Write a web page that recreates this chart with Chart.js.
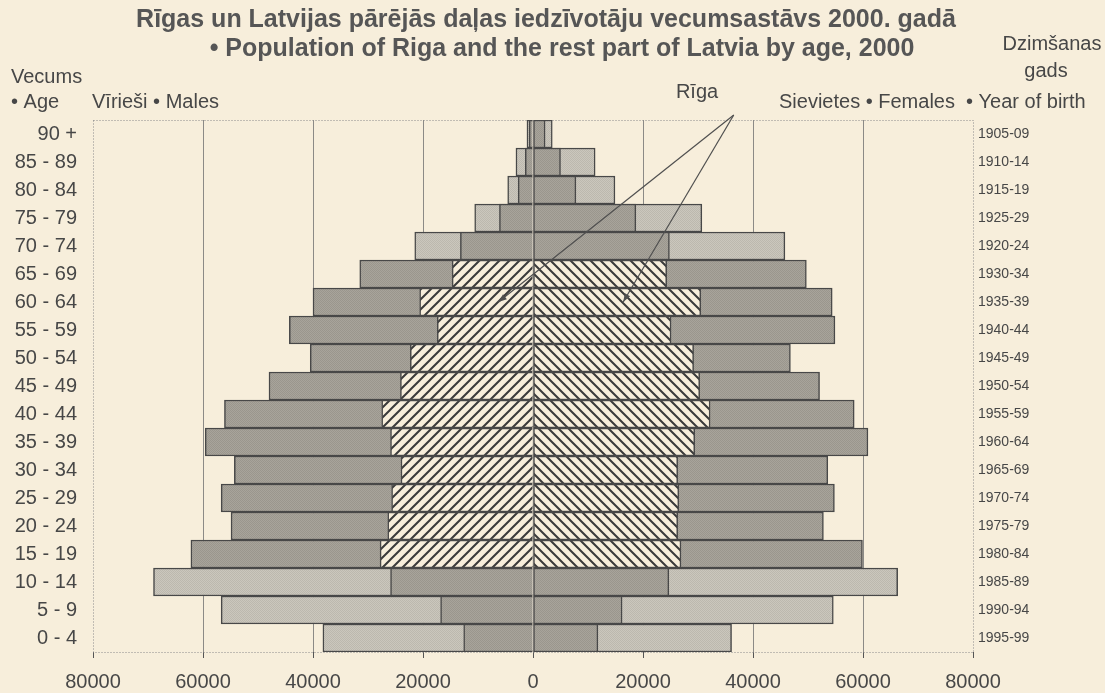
<!DOCTYPE html>
<html>
<head>
<meta charset="utf-8">
<script src="https://cdn.jsdelivr.net/npm/chart.js@4/dist/chart.umd.min.js"></script>
<style>
  html, body { margin: 0; padding: 0; background: #f7eedb; }
  #wrap { width: 1105px; height: 693px; }
</style>
</head>
<body>
<div id="wrap"><canvas id="pyramid"></canvas></div>
<script>
const ageGroups = ["90 +", "85 - 89", "80 - 84", "75 - 79", "70 - 74", "65 - 69", "60 - 64",
  "55 - 59", "50 - 54", "45 - 49", "40 - 44", "35 - 39", "30 - 34", "25 - 29", "20 - 24",
  "15 - 19", "10 - 14", "5 - 9", "0 - 4"];
const birthYears = ["1905-09", "1910-14", "1915-19", "1925-29", "1920-24", "1930-34", "1935-39",
  "1940-44", "1945-49", "1950-54", "1955-59", "1960-64", "1965-69", "1970-74", "1975-79",
  "1980-84", "1985-89", "1990-94", "1995-99"];

// Riga part (inner bar) and whole Latvia (outer edge), persons
const malesRiga = [700, 1400, 2700, 6100, 13200, 14700, 20600, 17400, 22300, 24100, 27500,
  25900, 24000, 25700, 26400, 27800, 25900, 16800, 12600];
const malesTotal = [1100, 3100, 4600, 10600, 21500, 31500, 40000, 44300, 40500, 48000, 56100,
  59600, 54300, 56700, 54900, 62200, 69000, 56700, 38200];
const femalesRiga = [2200, 5000, 7800, 18700, 24800, 24300, 30500, 25100, 29200, 30300, 32200,
  29400, 26300, 26500, 26300, 26900, 24700, 16200, 11800];
const femalesTotal = [3500, 11300, 14900, 30700, 45800, 49700, 54400, 54900, 46800, 52100, 58400,
  60900, 53600, 54800, 52800, 59900, 66300, 54600, 36100];

// rows 65-69 .. 15-19 have the hatched Riga part
const hatchedRows = ["65 - 69", "60 - 64", "55 - 59", "50 - 54", "45 - 49", "40 - 44", "35 - 39",
  "30 - 34", "25 - 29", "20 - 24", "15 - 19"];

const FONT = "'Liberation Sans', Arial, sans-serif";
const BG = "#f7eedb";
const INK = "#474747";

function dots(c1, c2) {
  const cv = document.createElement("canvas");
  cv.width = cv.height = 2;
  const g = cv.getContext("2d");
  g.fillStyle = c1; g.fillRect(0, 0, 2, 2);
  g.fillStyle = c2; g.fillRect(0, 0, 1, 1); g.fillRect(1, 1, 1, 1);
  return g.createPattern(cv, "repeat");
}

function hatch(dir) {
  const s = 10;
  const cv = document.createElement("canvas");
  cv.width = cv.height = s;
  const g = cv.getContext("2d");
  g.fillStyle = BG; g.fillRect(0, 0, s, s);
  g.strokeStyle = "#3a3a3a"; g.lineWidth = 2;
  g.beginPath();
  if (dir > 0) {
    g.moveTo(0, s); g.lineTo(s, 0);
    g.moveTo(-s / 2, s / 2); g.lineTo(s / 2, -s / 2);
    g.moveTo(s / 2, s * 1.5); g.lineTo(s * 1.5, s / 2);
  } else {
    g.moveTo(0, 0); g.lineTo(s, s);
    g.moveTo(-s / 2, s / 2); g.lineTo(s / 2, s * 1.5);
    g.moveTo(s / 2, -s / 2); g.lineTo(s * 1.5, s / 2);
  }
  g.stroke();
  return g.createPattern(cv, "repeat");
}

const darkGrey = dots("#a8a49b", "#9a968d");
const lightGrey = dots("#cbc7bd", "#bcb8ae");
const hatchLeft = hatch(1);
const hatchRight = hatch(-1);

const isHatched = (i) => hatchedRows.includes(ageGroups[i]);

// header texts, plot frame and the "Rīga" pointers
const decor = {
  id: "decor",
  beforeDatasetsDraw(chart) {
    const { ctx, chartArea: a } = chart;
    ctx.save();
    ctx.strokeStyle = "#8a8a8a";
    ctx.lineWidth = 1;
    ctx.setLineDash([1, 2]);
    ctx.strokeRect(a.left + 0.5, a.top + 0.5, a.right - a.left, a.bottom - a.top);
    ctx.restore();
  },
  afterDraw(chart) {
    const { ctx, chartArea: a, scales } = chart;
    ctx.save();
    ctx.fillStyle = "#565656";
    ctx.textBaseline = "middle";
    ctx.textAlign = "center";
    ctx.font = "bold 25px " + FONT;
    ctx.fillText("Rīgas un Latvijas pārējās daļas iedzīvotāju vecumsastāvs 2000. gadā", 546, 20);
    ctx.fillText("• Population of Riga and the rest part of Latvia by age, 2000", 562, 49);

    ctx.fillStyle = INK;
    ctx.font = "20px " + FONT;
    ctx.fillText("Dzimšanas", 1052, 44);
    ctx.fillText("gads", 1046, 71);
    ctx.fillText("Rīga", 697, 92);
    ctx.textAlign = "left";
    ctx.fillText("Vecums", 11, 77);
    ctx.fillText("• Age", 11, 102);
    ctx.fillText("Vīrieši • Males", 92, 102);
    ctx.fillText("Sievietes • Females", 779, 102);
    ctx.fillText("• Year of birth", 966, 102);

    // pointer lines from the label to the hatched Riga bars
    const x = scales.x, y = scales.y;
    const sx = x.getPixelForValue(36500), sy = a.top - 5;
    const tips = [[x.getPixelForValue(-6300), y.getPixelForValue(6)],
                  [x.getPixelForValue(16400), y.getPixelForValue(6)]];
    ctx.strokeStyle = "#4f4f4f";
    ctx.fillStyle = "#4f4f4f";
    ctx.lineWidth = 1.2;
    tips.forEach(([tx, ty]) => {
      ctx.beginPath();
      ctx.moveTo(sx, sy);
      ctx.lineTo(tx, ty);
      ctx.stroke();
      const ang = Math.atan2(ty - sy, tx - sx);
      ctx.beginPath();
      ctx.moveTo(tx, ty);
      ctx.lineTo(tx - 9 * Math.cos(ang - 0.35), ty - 9 * Math.sin(ang - 0.35));
      ctx.lineTo(tx - 9 * Math.cos(ang + 0.35), ty - 9 * Math.sin(ang + 0.35));
      ctx.closePath();
      ctx.fill();
    });
    ctx.restore();
  }
};

const barStyle = {
  borderColor: "#484848",
  borderWidth: 1.5,
  borderSkipped: "start",
  categoryPercentage: 1,
  barPercentage: 1,
  grouped: false
};

new Chart(document.getElementById("pyramid"), {
  type: "bar",
  data: {
    labels: ageGroups,
    datasets: [
      { ...barStyle, label: "Vīrieši Rīga", data: malesRiga.map((v) => -v),
        backgroundColor: (c) => isHatched(c.dataIndex) ? hatchLeft : darkGrey },
      { ...barStyle, label: "Sievietes Rīga", data: femalesRiga, borderSkipped: false,
        backgroundColor: (c) => isHatched(c.dataIndex) ? hatchRight : darkGrey },
      { ...barStyle, label: "Vīrieši", data: malesTotal.map((v) => -v),
        backgroundColor: (c) => isHatched(c.dataIndex) ? darkGrey : lightGrey },
      { ...barStyle, label: "Sievietes", data: femalesTotal,
        backgroundColor: (c) => isHatched(c.dataIndex) ? darkGrey : lightGrey }
    ]
  },
  options: {
    indexAxis: "y",
    responsive: true,
    maintainAspectRatio: false,
    animation: false,
    layout: { padding: { top: 120, left: 0, right: 0, bottom: 0 } },
    plugins: { legend: { display: false }, tooltip: { enabled: false } },
    scales: {
      x: {
        type: "linear",
        min: -80000,
        max: 80000,
        afterFit: (s) => { s.height = 41; },
        border: { display: false },
        grid: {
          color: (c) => (c.tick && (c.tick.value === 0 || Math.abs(c.tick.value) === 80000)) ? "rgba(0,0,0,0)" : "#8c8a86",
          lineWidth: 1,
          tickLength: 6,
          tickColor: "#555"
        },
        ticks: {
          stepSize: 20000,
          autoSkip: false,
          maxRotation: 0,
          padding: 12,
          color: INK,
          font: { family: FONT, size: 20 },
          callback: (v) => Math.abs(v)
        }
      },
      y: {
        type: "category",
        position: "left",
        offset: true,
        afterFit: (s) => { s.width = 93; },
        border: { display: false },
        grid: { display: false, drawTicks: false },
        ticks: { padding: 16, color: INK, font: { family: FONT, size: 20 } }
      },
      y2: {
        type: "category",
        position: "right",
        labels: birthYears,
        offset: true,
        afterFit: (s) => { s.width = 132; },
        border: { display: false },
        grid: { display: false, drawTicks: false },
        ticks: { padding: 5, color: INK, font: { family: FONT, size: 14 } }
      }
    }
  },
  plugins: [decor]
});
</script>
</body>
</html>
